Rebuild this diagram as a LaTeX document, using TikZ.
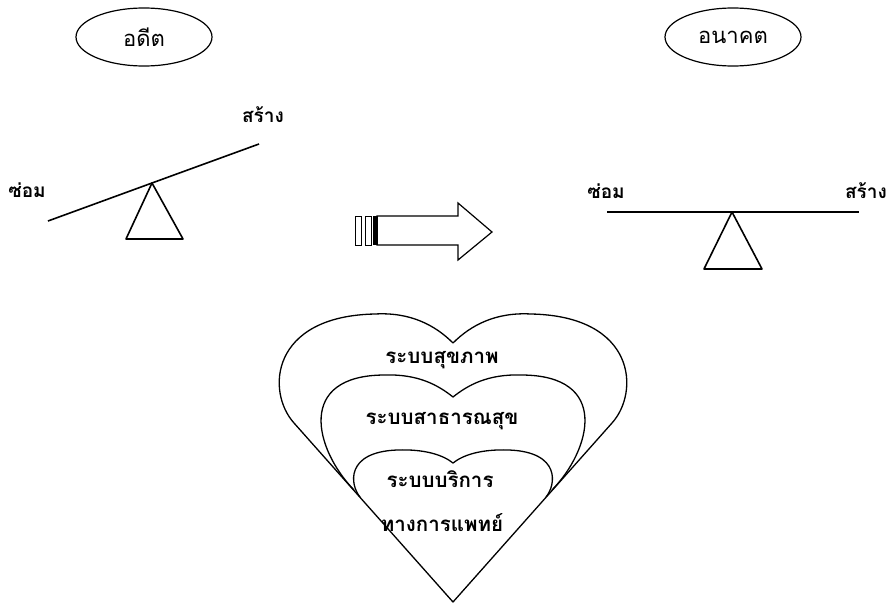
\documentclass[tikz,border=0pt]{standalone}
\usepackage{fontspec}
\newfontfamily\thaifont[Script=Thai]{Loma}
\usetikzlibrary{shapes.geometric}
\usetikzlibrary{positioning}

\begin{document}
\begin{tikzpicture}[x=1pt,y=-1pt]
 \useasboundingbox (0,0) rectangle (888,602);
 \tikzstyle{era} = [draw, ellipse, line width=1.2pt, minimum width=136pt, minimum height=58pt, inner sep=0pt, font=\thaifont\fontsize{22}{24}\selectfont];
 \tikzstyle{lbl} = [inner sep=0pt, font=\thaifont\bfseries\fontsize{19}{21}\selectfont];
 \tikzstyle{inlbl} = [inner sep=0pt, font=\thaifont\bfseries\fontsize{20.5}{22}\selectfont];
 \tikzstyle{beam} = [line width=1.6pt, line join=round];
 \tikzstyle{heart} = [line width=1.3pt, line join=round];

 \node (past) [era] at (144,37) {อดีต};
 \node (future) [era] at (733,37) {อนาคต};

 % past: the seesaw tilts
 \coordinate (pivotL) at (152,183);
 \coordinate (lowL) at (48,221);
 \coordinate (highL) at (259,144);
 \draw [beam] (lowL) -- (pivotL) -- (highL);
 \draw [beam] (pivotL) -- (126,239) -- (183,239) -- cycle;
 \node (repairL) [lbl] at (27,190) {ซ่อม};
 \node (buildL) [lbl] at (263,115) {สร้าง};

 % future: the seesaw is level
 \coordinate (pivotR) at (732,212);
 \coordinate (lowR) at (607,212);
 \coordinate (highR) at (859,212);
 \draw [beam] (lowR) -- (pivotR) -- (highR);
 \draw [beam] (pivotR) -- (704,269) -- (762,269) -- cycle;
 \node (repairR) [lbl] at (606,191) {ซ่อม};
 \node (buildR) [lbl] at (866,191) {สร้าง};

 % arrow
 \draw [line width=1.2pt] (377,216) -- (458,216) -- (458,203) -- (492,232) -- (458,260) -- (458,245) -- (377,245) -- cycle;
 \draw [line width=0.9pt] (355,216) rectangle (361,245);
 \draw [line width=0.9pt] (365,216) rectangle (371,245);
 \fill (373,216) rectangle (378,245);

 % hearts
 \draw [heart] (453,602) -- (294,423) .. controls (266,392) and (270,316) .. (375,314)
   .. controls (410,312) and (435,325) .. (453,343)
   .. controls (471,325) and (496,312) .. (531,314)
   .. controls (636,316) and (640,392) .. (612,423) -- cycle;
 \draw [heart] (354,490) .. controls (315,450) and (295,375) .. (385,375)
   .. controls (418,374) and (438,385) .. (453,397)
   .. controls (468,385) and (488,374) .. (521,375)
   .. controls (611,375) and (591,450) .. (552,490);
 \draw [heart] (360,497) .. controls (350,485) and (345,452) .. (397,450)
   .. controls (425,449) and (443,455) .. (453,463)
   .. controls (463,455) and (481,449) .. (509,450)
   .. controls (561,452) and (556,485) .. (546,497);

 \node (health) [inlbl] at (442,360) {ระบบสุขภาพ};
 \node (public) [inlbl] at (442,421) {ระบบสาธารณสุข};
 \node (service) [inlbl] at (440,479) {ระบบบริการ};
 \node (medical) [inlbl] at (442,523) {ทางการแพทย์};
\end{tikzpicture}
\end{document}
